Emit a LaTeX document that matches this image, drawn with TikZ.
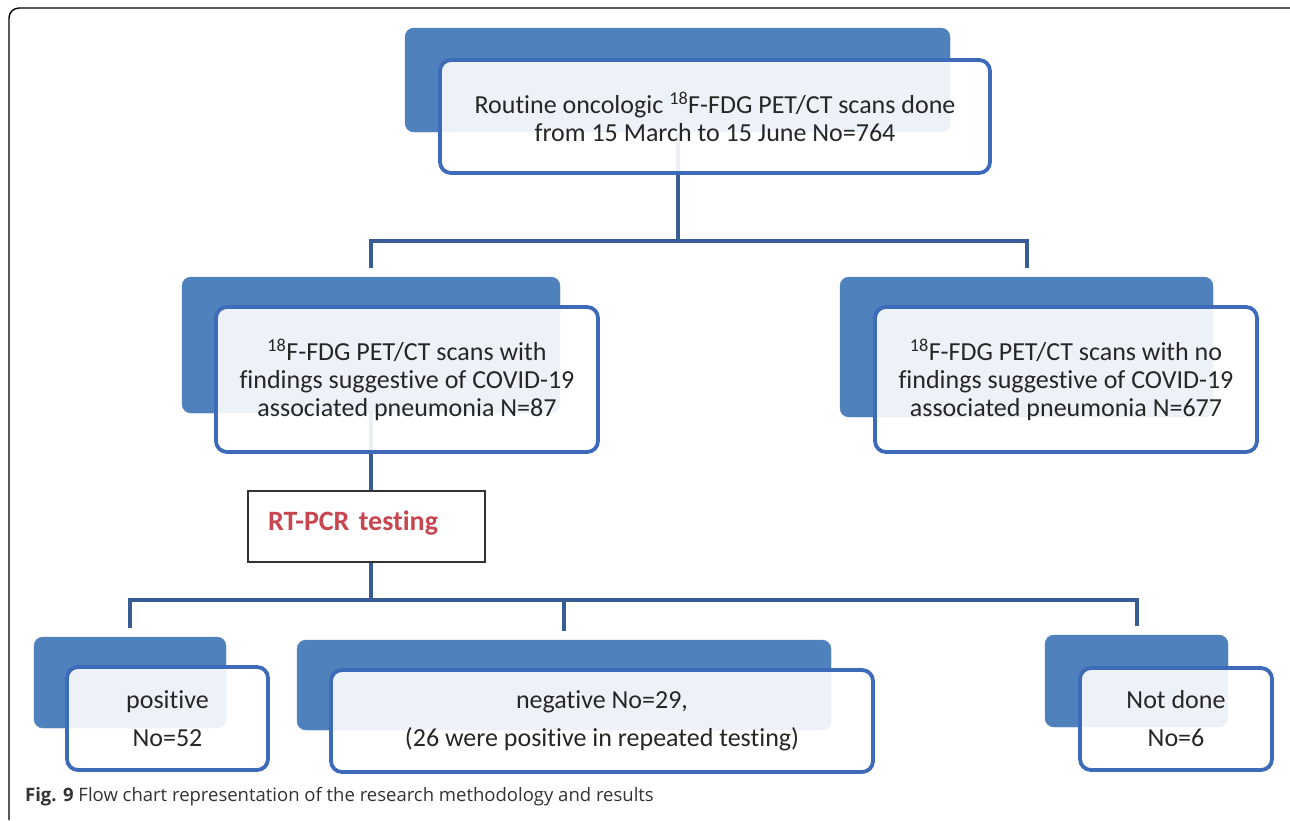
\documentclass[tikz,border=0pt]{standalone}
\usepackage{fontspec}
\setmainfont{Carlito}[Ligatures={NoCommon}]
\newfontfamily\capfont{Open Sans}
\usepackage{tikz}
\usetikzlibrary{backgrounds}
\definecolor{boxblue}{RGB}{79,129,189}
\definecolor{edgeblue}{RGB}{62,106,186}
\definecolor{linkblue}{RGB}{56,93,150}
\definecolor{pcrred}{RGB}{200,70,80}

\begin{document}
\begin{tikzpicture}[x=1pt,y=-1pt]
\tikzstyle{back} =[rectangle, rounded corners=9pt, fill=boxblue, draw=boxblue, inner sep=0pt]
\tikzstyle{front} =[rectangle, rounded corners=11pt, fill=white, fill opacity=0.9, text opacity=1, draw=edgeblue, line width=3.8pt, align=center, inner sep=0pt, text=black!85, font=\fontsize{26}{28}\selectfont]
\tikzstyle{link} =[draw=linkblue, line width=4pt]
\tikzstyle{pcrbox} =[rectangle, draw=black!80, line width=1.5pt, fill=white, minimum width=237pt, minimum height=71pt, text width=197pt, inner xsep=20pt, align=left, text height=24pt, text depth=16pt, text=pcrred, font=\bfseries\fontsize{28}{30}\selectfont]

\useasboundingbox (0,0) rectangle (1290,820);
\draw[line width=1.4pt, rounded corners=10pt] (9,820) |- (1290,8);

\coordinate (bus1) at (0,241);
\coordinate (bus2) at (0,600);

\node[back, minimum width=545pt, minimum height=104pt] (topb) at (677.5,80) {};
\node[front, minimum width=550pt, minimum height=113pt] (top) at (715,116.5) {Routine oncologic \textsuperscript{18}F-FDG PET/CT scans done\\from 15 March to 15 June No=764};

\node[back, minimum width=378pt, minimum height=136pt] (leftb) at (371,345) {};
\node[front, minimum width=382pt, minimum height=145pt] (left) at (407,379.5) {\textsuperscript{18}F-FDG PET/CT scans with\\findings suggestive of COVID-19\\associated pneumonia N=87};

\node[back, minimum width=373pt, minimum height=140pt] (rightb) at (1026.5,347) {};
\node[front, minimum width=382pt, minimum height=145pt] (right) at (1066,379.5) {\textsuperscript{18}F-FDG PET/CT scans with no\\findings suggestive of COVID-19\\associated pneumonia N=677};

\node[pcrbox] (rtpcr) at (366.5,526.5) {RT-PCR testing};

\node[back, minimum width=192pt, minimum height=91pt] (posb) at (130,682.5) {};
\node[front, minimum width=201pt, minimum height=103pt, font=\fontsize{26}{38}\selectfont] (pos) at (167.5,718.5) {positive\\No=52};

\node[back, minimum width=534pt, minimum height=90pt] (negb) at (564,685) {};
\node[front, minimum width=542pt, minimum height=102pt, font=\fontsize{26}{38}\selectfont] (neg) at (602,721) {negative No=29,\\(26 were positive in repeated testing)};

\node[back, minimum width=183pt, minimum height=92pt] (notb) at (1136.5,681) {};
\node[front, minimum width=192pt, minimum height=102pt, font=\fontsize{26}{38}\selectfont] (not) at (1176,719) {Not done\\No=6};

\node[anchor=west, inner sep=0pt, text=black!80, font=\capfont\fontsize{18.5}{22}\selectfont] (caption) at (25,797) {\textbf{Fig. 9} Flow chart representation of the research methodology and results};

\begin{scope}[on background layer]
\draw[link] (topb.center) -- (topb.center |- bus1);
\draw[link, shorten >=9pt] (topb.center |- bus1) -| (leftb.north);
\draw[link, shorten >=9pt] (topb.center |- bus1) -| (rightb.north);
\draw[link] (leftb.center) -- (leftb.center |- bus2);
\draw[link, shorten >=9pt] (leftb.center |- bus2) -| (posb.north);
\draw[link, shorten >=9pt] (leftb.center |- bus2) -| (negb.north);
\draw[link, shorten >=9pt] (leftb.center |- bus2) -| (notb.north);
\end{scope}
\end{tikzpicture}
\end{document}
